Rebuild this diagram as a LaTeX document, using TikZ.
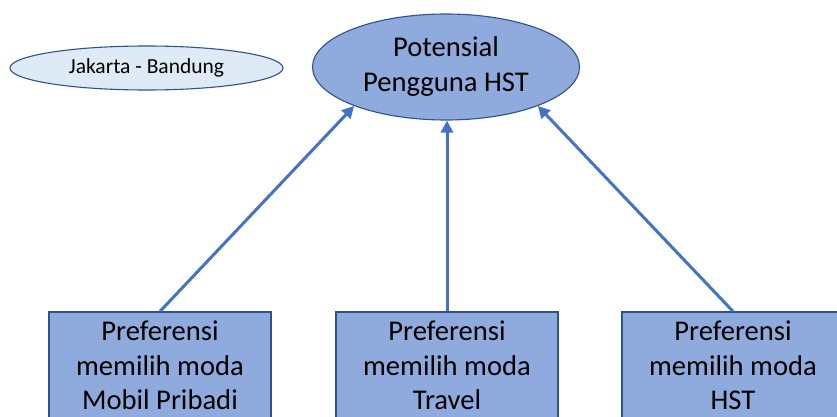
\documentclass[tikz,border=0pt]{standalone}
\usepackage{fontspec}
\setmainfont{Carlito}
\usetikzlibrary{shapes.geometric,arrows.meta}
\definecolor{boxfill}{HTML}{8FAADC}
\definecolor{boxline}{HTML}{2F528F}
\definecolor{lightfill}{HTML}{DEEBF7}
\definecolor{arrowc}{HTML}{4472C4}
\tikzset{
  prefbox/.style={draw=boxline, line width=1.2pt, fill=boxfill, rectangle,
    minimum width=222pt, minimum height=107pt, inner sep=0pt, align=center,
    font=\fontsize{28.6}{34.5}\selectfont},
  bigell/.style={draw=boxline, line width=1.1pt, fill=boxfill, ellipse,
    minimum width=267pt, minimum height=106pt, inner sep=0pt, align=center,
    font=\fontsize{28.6}{35}\selectfont},
  smallell/.style={draw=boxline, line width=1.1pt, fill=lightfill, ellipse,
    minimum width=273pt, minimum height=44pt, inner sep=0pt, align=center,
    font=\fontsize{21.5}{25}\selectfont},
  conn/.style={draw=arrowc, line width=3pt, -{Triangle[length=12pt,width=12pt]}}
}
\begin{document}
\begin{tikzpicture}[x=1pt,y=-1pt]
\useasboundingbox (0,0) rectangle (837,417);
\clip (0,0) rectangle (837,417);
\node[smallell] (loc) at (146.5,68) {Jakarta - Bandung};
\node[bigell] (e) at (446,67) {Potensial\\Pengguna HST};
\node[prefbox] (b1) at (160,365.5) {Preferensi\\memilih moda\\Mobil Pribadi};
\node[prefbox] (b2) at (447,365.5) {Preferensi\\memilih moda\\Travel};
\node[prefbox] (b3) at (733,365.5) {Preferensi\\memilih moda\\HST};
\draw[conn] (b1.north) -- (e.203);
\draw[conn] (b2.north) -- (b2.north |- e.south);
\draw[conn] (b3.north) -- (e.337.5);
\end{tikzpicture}
\end{document}
